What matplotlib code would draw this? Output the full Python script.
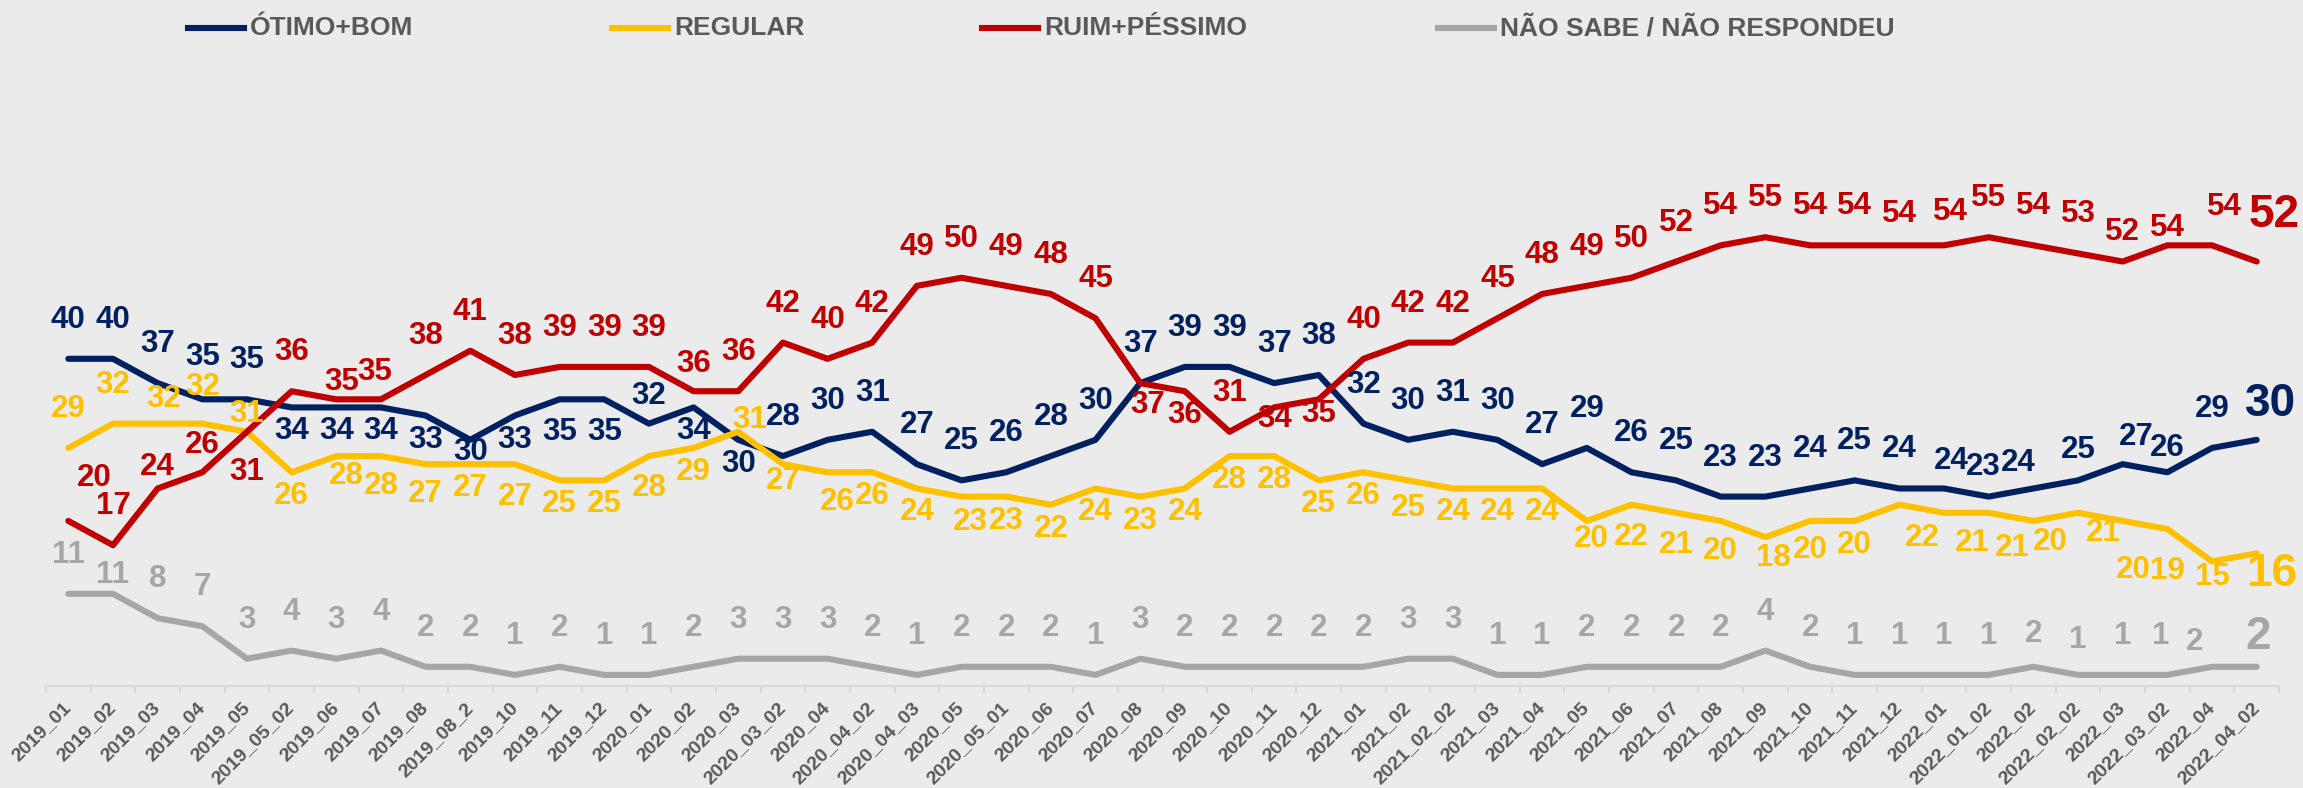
import matplotlib.pyplot as plt
from matplotlib.lines import Line2D

plt.rcParams['font.family'] = ['Liberation Sans', 'DejaVu Sans']
plt.rcParams['font.weight'] = 'bold'

# pesquisas (eixo x)
periods = ['2019_01', '2019_02', '2019_03', '2019_04', '2019_05', '2019_05_02', '2019_06',
           '2019_07', '2019_08', '2019_08_2', '2019_10', '2019_11', '2019_12', '2020_01',
           '2020_02', '2020_03', '2020_03_02', '2020_04', '2020_04_02', '2020_04_03',
           '2020_05', '2020_05_01', '2020_06', '2020_07', '2020_08', '2020_09', '2020_10',
           '2020_11', '2020_12', '2021_01', '2021_02', '2021_02_02', '2021_03', '2021_04',
           '2021_05', '2021_06', '2021_07', '2021_08', '2021_09', '2021_10', '2021_11',
           '2021_12', '2022_01', '2022_01_02', '2022_02', '2022_02_02', '2022_03',
           '2022_03_02', '2022_04', '2022_04_02']

otimo_bom = [40, 40, 37, 35, 35, 34, 34, 34, 33, 30, 33, 35, 35, 32, 34, 30, 28, 30, 31, 27,
             25, 26, 28, 30, 37, 39, 39, 37, 38, 32, 30, 31, 30, 27, 29, 26, 25, 23, 23, 24,
             25, 24, 24, 23, 24, 25, 27, 26, 29, 30]
regular = [29, 32, 32, 32, 31, 26, 28, 28, 27, 27, 27, 25, 25, 28, 29, 31, 27, 26, 26, 24,
           23, 23, 22, 24, 23, 24, 28, 28, 25, 26, 25, 24, 24, 24, 20, 22, 21, 20, 18, 20,
           20, 22, 21, 21, 20, 21, 20, 19, 15, 16]
ruim_pessimo = [20, 17, 24, 26, 31, 36, 35, 35, 38, 41, 38, 39, 39, 39, 36, 36, 42, 40, 42, 49,
                50, 49, 48, 45, 37, 36, 31, 34, 35, 40, 42, 42, 45, 48, 49, 50, 52, 54, 55, 54,
                54, 54, 54, 55, 54, 53, 52, 54, 54, 52]
nao_sabe = [11, 11, 8, 7, 3, 4, 3, 4, 2, 2, 1, 2, 1, 1, 2, 3, 3, 3, 2, 1,
            2, 2, 2, 1, 3, 2, 2, 2, 2, 2, 3, 3, 1, 1, 2, 2, 2, 2, 4, 2,
            1, 1, 1, 1, 2, 1, 1, 1, 2, 2]

names = ['ÓTIMO+BOM', 'REGULAR', 'RUIM+PÉSSIMO', 'NÃO SABE / NÃO RESPONDEU']
colors = ['#002060', '#FFC000', '#C00000', '#A6A6A6']

# rótulos que ficam abaixo da linha
below = [
    [5, 6, 7, 8, 9, 10, 11, 12, 14, 15],
    list(range(5, 15)) + list(range(16, 49)),
    [4, 24, 25, 27, 28],
    [],
]
# ajustes manuais dos rótulos (dx, dy em px)
nudge = [
    {3: (0, 42), 9: (0, -12), 11: (0, -33), 12: (0, -33), 13: (0, 28), 42: (7, 27),
     43: (-5, 30), 44: (-15, 25), 45: (0, 30), 46: (14, 27), 47: (0, 24)},
    {2: (6, 25), 3: (0, 37), 4: (0, 18), 6: (10, -20), 7: (0, -30), 8: (0, -30),
     10: (0, -33), 13: (0, -32), 15: (11, 12), 16: (0, -17), 17: (10, -30), 20: (9, -25),
     30: (0, -28), 34: (4, -18), 35: (0, -32), 36: (0, -32), 37: (0, -30), 38: (8, -21),
     39: (0, -29), 41: (23, -33), 42: (28, -30), 43: (24, -35), 44: (17, -21),
     45: (25, -20), 46: (11, -49), 47: (0, -42), 48: (0, -16)},
    {0: (26, 43), 2: (0, 21), 3: (0, 27), 4: (0, -40), 6: (5, 17), 7: (-6, 27), 14: (0, 27),
     24: (7, -22), 27: (0, -12), 28: (0, -15), 41: (0, 31), 42: (6, 33), 46: (0, 30),
     47: (0, 17), 48: (12, 38)},
    {1: (0, 19), 44: (0, 33), 45: (0, 35), 47: (-7, 39), 48: (-17, 25)},
]
# deslocamento (px) do último rótulo, maior
last_offset = [(14, 36), (15, -21), (17, 47), (2, 30)]

W, H = 2303, 788
fig = plt.figure(figsize=(W / 100, H / 100), dpi=100)
fig.patch.set_facecolor('#EBEBEB')
ax = fig.add_axes([46 / W, (H - 686) / H, 2233 / W, 636 / H])
ax.set_facecolor('#EBEBEB')

x = list(range(len(periods)))
series = [otimo_bom, regular, ruim_pessimo, nao_sabe]
px = 0.72  # px -> pt

for k, (vals, col) in enumerate(zip(series, colors)):
    ax.plot(x, vals, color=col, lw=4.4, solid_joinstyle='round', solid_capstyle='round',
            clip_on=False, zorder=3)
    for i, v in enumerate(vals):
        if i == len(vals) - 1:
            dx, dy = last_offset[k]
            size = 33
        else:
            dx, dy = nudge[k].get(i, (0, -24 if i in below[k] else 39))
            size = 22.5
        ax.annotate(str(v), (i, v), xytext=(dx * px, dy * px), textcoords='offset points',
                    ha='center', va='center', color=col, fontsize=size, fontweight='bold',
                    annotation_clip=False, zorder=4)

ax.set_xlim(-0.5, len(periods) - 0.5)
ax.set_ylim(-0.37, 78.1)
for s in ['top', 'right', 'left']:
    ax.spines[s].set_visible(False)
ax.spines['bottom'].set_color('#D9D9D9')
ax.spines['bottom'].set_linewidth(1.5)
ax.set_yticks([])

ax.set_xticks(x)
ax.set_xticklabels(periods, rotation=45, ha='right', va='center', rotation_mode='anchor',
                   fontsize=14, fontweight='bold', color='#595959')
ax.tick_params(axis='x', which='major', length=0, pad=14)
ax.set_xticks([i - 0.5 for i in range(len(periods) + 1)], minor=True)
ax.tick_params(axis='x', which='minor', length=5, width=1.5, color='#D9D9D9')

# legenda manual no topo
leg_x = [188, 612, 982, 1438]
leg_y = (H - 28) / H
for lx, name, col in zip(leg_x, names, colors):
    fig.add_artist(Line2D([lx / W, (lx + 56) / W], [leg_y, leg_y], color=col, lw=4.4,
                          transform=fig.transFigure))
    fig.text((lx + 62) / W, leg_y, name, ha='left', va='center', fontsize=19,
             fontweight='bold', color='#595959')

fig.savefig('out.png', dpi=100, facecolor=fig.get_facecolor())
